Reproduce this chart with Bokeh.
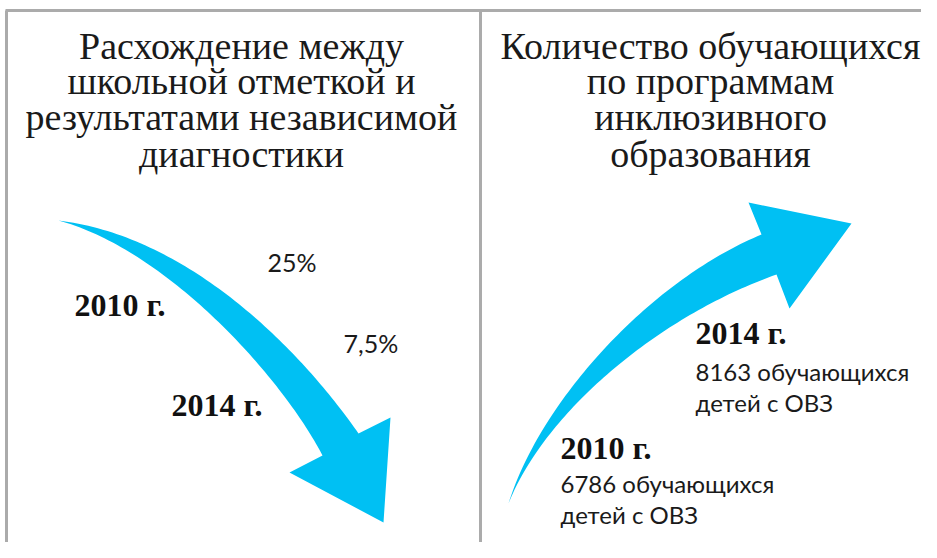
import numpy as np
from bokeh.plotting import figure
from bokeh.models import Range1d
from bokeh.core.properties import value
from bokeh.embed import file_html
from bokeh.resources import INLINE

# ---- content -------------------------------------------------------------
left_title = ["Расхождение между", "школьной отметкой и",
              "результатами независимой", "диагностики"]
right_title = ["Количество обучающихся", "по программам",
               "инклюзивного", "образования"]
left_years = ["2010 г.", "2014 г."]
left_values = ["25%", "7,5%"]
right_years = ["2014 г.", "2010 г."]
right_counts = ["8163 обучающихся", "6786 обучающихся"]
right_unit = ["детей с ОВЗ", "детей с ОВЗ"]

# ---- figure (data coordinates = picture pixels) ---------------------------
W, H = 921, 542
p = figure(width=W, height=H, output_backend="svg", toolbar_location=None,
           x_range=Range1d(0, W), y_range=Range1d(H, 0),
           min_border=0, background_fill_color="white")
p.axis.visible = False
p.grid.visible = False
p.outline_line_color = None

GRAY = "#ababab"
CYAN = "#00c0f3"

# frame lines
p.segment(x0=[5, 6, 480], y0=[10, 10, 10], x1=[940, 6, 480], y1=[10, 560, 560],
          line_color=GRAY, line_width=3)


def bez(p0, p1, p2, p3, n=80):
    t = np.linspace(0, 1, n)[:, None]
    pts = ((1 - t) ** 3) * np.array(p0) + 3 * ((1 - t) ** 2) * t * np.array(p1) \
        + 3 * (1 - t) * t ** 2 * np.array(p2) + t ** 3 * np.array(p3)
    return pts


def arrow(outer, inner, head):
    o = bez(*outer)
    i = bez(*inner)[::-1]
    xs = list(o[:, 0]) + [pt[0] for pt in head] + list(i[:, 0])
    ys = list(o[:, 1]) + [pt[1] for pt in head] + list(i[:, 1])
    return xs, ys


# left (down) arrow
lx, ly = arrow(((58, 220), (190, 236), (301, 351), (358, 433)),
               ((58, 220), (168, 250), (282, 378), (322, 455)),
               [(390, 417), (383, 522), (289, 472)])
p.patch(lx, ly, fill_color=CYAN, line_color=None)

# right (up) arrow
rx, ry = arrow(((508, 503), (540, 400), (650, 280), (761, 234)),
               ((508, 503), (545, 410), (660, 315), (776, 274)),
               [(748, 202), (851, 223), (789, 308)])
p.patch(rx, ry, fill_color=CYAN, line_color=None)

# titles
serif = value("Liberation Serif")
tb = [45, 80, 116, 153]
p.text(x=[241] * 4, y=tb, text=left_title, text_font=serif,
       text_font_size=value("38px"), text_align="center",
       text_baseline="alphabetic", text_color="#1a1a1a")
p.text(x=[710] * 4, y=tb, text=right_title, text_font=serif,
       text_font_size=value("38px"), text_align="center",
       text_baseline="alphabetic", text_color="#1a1a1a")

# bold years
p.text(x=[74, 171, 695, 560], y=[304, 404, 332, 447],
       text=left_years + right_years, text_font=serif,
       text_font_size=value("32px"), text_font_style="bold",
       text_align="left", text_baseline="alphabetic", text_color="#111111")

sans = value("Lato")
p.text(x=[267, 343], y=[261, 342], text=left_values, text_font=sans,
       text_font_size=value("25px"), text_align="left",
       text_baseline="alphabetic", text_color="#1a1a1a")
p.text(x=[695, 695, 560, 560], y=[371, 402, 483, 514],
       text=[right_counts[0], right_unit[0], right_counts[1], right_unit[1]],
       text_font=sans, text_font_size=value("24px"), text_align="left",
       text_baseline="alphabetic", text_color="#1a1a1a")

open("out.html", "w").write(file_html(p, INLINE))
